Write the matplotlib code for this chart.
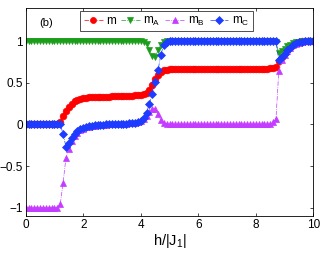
import numpy as np
import matplotlib
matplotlib.use("Agg")
import matplotlib.pyplot as plt

plt.rcParams['font.family'] = ['Liberation Sans', 'DejaVu Sans']

h = np.round(np.arange(101) * 0.1, 1)

m = ([0.0] * 12 +
     [0.03, 0.10, 0.16, 0.21, 0.25, 0.28, 0.30, 0.31, 0.317, 0.322,
      0.325, 0.328, 0.330, 0.332, 0.333, 0.334, 0.335, 0.336, 0.337, 0.338,
      0.339, 0.340, 0.341, 0.343, 0.345, 0.347, 0.350, 0.353, 0.357, 0.365,
      0.38, 0.42, 0.48, 0.55, 0.60, 0.635, 0.65, 0.657, 0.662, 0.665] +
     [0.667] * 29 +
     [0.668, 0.669, 0.670, 0.671, 0.673, 0.677, 0.69] +
     [0.76, 0.81, 0.86, 0.90, 0.93, 0.96, 0.98, 0.99] +
     [1.0] * 5)

mA = ([1.0] * 41 +
      [0.995, 0.97, 0.90, 0.82, 0.81, 0.89, 0.96, 0.99] +
      [1.0] * 38 +
      [0.99] +
      [0.86, 0.88, 0.91, 0.94, 0.96, 0.98, 0.99, 0.995] +
      [1.0] * 5)

mB = ([-1.0] * 12 +
      [-0.96, -0.70, -0.40, -0.29, -0.20, -0.14, -0.10, -0.07, -0.05, -0.035,
       -0.025, -0.02, -0.015, -0.01, -0.007, -0.005, -0.003, 0.0, 0.0, 0.002,
       0.004, 0.006, 0.008, 0.01, 0.013, 0.017, 0.022, 0.03, 0.04, 0.06,
       0.10, 0.15, 0.19, 0.19, 0.13, 0.05, 0.02, 0.01] +
      [0.0] * 34 +
      [0.005, 0.01, 0.025, 0.06] +
      [0.64, 0.77, 0.83, 0.88, 0.92, 0.95, 0.97, 0.985, 0.995] +
      [1.0] * 4)

mC = ([0.0] * 13 +
      [-0.11, -0.27, -0.22, -0.16, -0.11, -0.08, -0.055, -0.04, -0.03, -0.022,
       -0.016, -0.011, -0.007, -0.004, -0.002, 0.0, 0.0, 0.0, 0.002, 0.004,
       0.006, 0.008, 0.01, 0.013, 0.017, 0.023, 0.032, 0.045, 0.08, 0.14,
       0.25, 0.37, 0.51, 0.65, 0.84, 0.96, 0.995] +
      [1.0] * 38 +
      [0.77, 0.81, 0.85, 0.89, 0.925, 0.955, 0.975, 0.99, 0.997] +
      [1.0] * 4)

series = [
    (m, 'm', '#ff0000', 'o', 4.8),
    (mA, r'm$_\mathregular{A}$', '#1c9e1c', 'v', 5.0),
    (mB, r'm$_\mathregular{B}$', '#c43cff', '^', 5.0),
    (mC, r'm$_\mathregular{C}$', '#1e3cff', 'D', 4.0),
]

fig = plt.figure(figsize=(3.23, 2.54), dpi=100)
ax = fig.add_axes([0.0796, 0.1496, 0.8904, 0.8189])

for y, lab, col, mk, ms in series:
    ax.plot(h, y, linestyle='-.', linewidth=0.5, color=col, marker=mk,
            markersize=ms, markeredgewidth=0.5, markeredgecolor=col,
            markerfacecolor=col, label=lab)

ax.set_xlim(0, 10)
ax.set_ylim(-1.1, 1.4)
ax.set_xticks([0, 2, 4, 6, 8, 10])
ax.set_yticks([-1, -0.5, 0, 0.5, 1])
ax.set_yticklabels(['\u22121', '\u22120.5', '0', '0.5', '1'])
ax.tick_params(direction='in', top=True, right=True, labelsize=8.5,
               length=2.5, width=0.5, pad=2)
for s in ax.spines.values():
    s.set_linewidth(0.6)

ax.set_xlabel(r'h/|J$_\mathregular{1}$|', fontsize=10.5, labelpad=1)
ax.text(0.046, 0.93, '(b)', transform=ax.transAxes, fontsize=8,
        va='center', ha='left')

leg = ax.legend(loc='upper center', bbox_to_anchor=(0.49, 0.985), ncol=4,
                fontsize=8.5, frameon=True, fancybox=False, handlelength=1.6,
                handletextpad=0.3, columnspacing=0.4, borderpad=0.3,
                borderaxespad=0.0, markerscale=0.9)
leg.get_frame().set_edgecolor('black')
leg.get_frame().set_linewidth(0.6)

fig.savefig('out.png', dpi=100)
